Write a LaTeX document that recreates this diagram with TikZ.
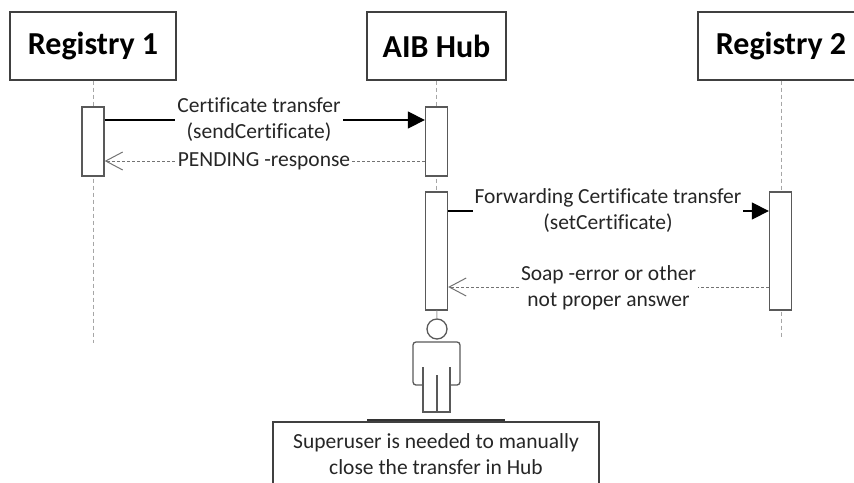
\documentclass[tikz,border=0pt]{standalone}
\usepackage{fontspec}
\setmainfont[Ligatures=NoCommon]{Carlito}
\usetikzlibrary{arrows.meta}

\begin{document}
\begin{tikzpicture}[x=1pt,y=-1pt,
		head/.style={draw=black!75, line width=1.3pt, fill=white, minimum width=166pt, minimum height=68pt, font=\fontsize{32}{38}\selectfont\bfseries},
		act/.style={draw=black!65, line width=1.3pt, fill=white, minimum width=22pt, inner sep=0pt},
		lifeline/.style={draw=black!35, line width=1pt, dash pattern=on 4pt off 3pt},
		msg/.style={line width=1.2pt, -{Triangle[length=17pt,width=17pt]}},
		reply/.style={draw=black!55, line width=1pt, dash pattern=on 3pt off 2pt, -{Straight Barb[length=17pt,width=18pt]}},
		lbl/.style={fill=white, inner sep=2pt, align=center, font=\fontsize{21.5}{26}\selectfont, text=black!85}]
	\useasboundingbox (0,0) rectangle (854,482);

	% Draw the heads
	\node[head] (reg1) at (93,46) {Registry 1};
	\node[head, minimum width=139pt] (hub) at (436.5,46) {AIB Hub};
	\node[head] (reg2) at (781,46) {Registry 2};

	% Draw the lifelines
	\coordinate (reg1end) at (93,343);
	\coordinate (reg2end) at (781,337);
	\draw[lifeline] (reg1) -- (reg1end);
	\draw[lifeline] (reg2) -- (reg2end);
	\draw[lifeline] (hub) -- (436.5,192);

	% Draw the activation boxes
	\node[act, minimum height=69pt] (reg1act) at (93,141.5) {};
	\node[act, minimum height=69pt] (hubact1) at (436.5,141.5) {};
	\node[act, minimum height=118pt] (hubact2) at (436.5,251) {};
	\node[act, minimum height=118pt] (reg2act) at (780.5,251) {};

	% Draw the superuser
	\node[circle, draw=black!65, line width=1.3pt, minimum size=20pt, inner sep=0pt] (su) at (437,329) {};
	\draw[lifeline, dash pattern=] (hubact2) -- (su);
	\draw[draw=black!65, line width=1.3pt, rounded corners=3pt] (450,385) -- (460,385) -- (460,342) -- (413,342) -- (413,385) -- (423,385);
	\draw[draw=black!65, line width=1.3pt] (423,367) -- (423,412) -- (450,412) -- (450,367);
	\draw[draw=black!65, line width=1.3pt] (437,375) -- (437,412);

	% Draw the messages
	\draw[msg] (reg1act.east |- 0,120) -- (hubact1.west |- 0,120);
	\node[lbl] (send) at (259,119.5) {Certificate transfer\\(sendCertificate)};
	\draw[reply] (hubact1.west |- 0,161) -- (reg1act.east |- 0,161);
	\node[lbl, inner ysep=0pt] (pending) at (264,161) {PENDING -response};
	\draw[msg] (hubact2.east |- 0,211) -- (reg2act.west |- 0,211);
	\node[lbl] (forward) at (608,211) {Forwarding Certificate transfer\\(setCertificate)};
	\draw[reply] (reg2act.west |- 0,287) -- (hubact2.east |- 0,287);
	\node[lbl] (soap) at (608.5,287.5) {Soap -error or other\\not proper answer};

	% Draw the note
	\draw[line width=2.5pt, black!80] (367,420) -- (505,420);
	\node[draw=black!75, line width=1.3pt, minimum width=326pt, minimum height=66pt] (note) at (436,455) {};
	\node[lbl, fill=none] (notetext) at (436,454.5) {Superuser is needed to manually\\close the transfer in Hub};
\end{tikzpicture}
\end{document}
